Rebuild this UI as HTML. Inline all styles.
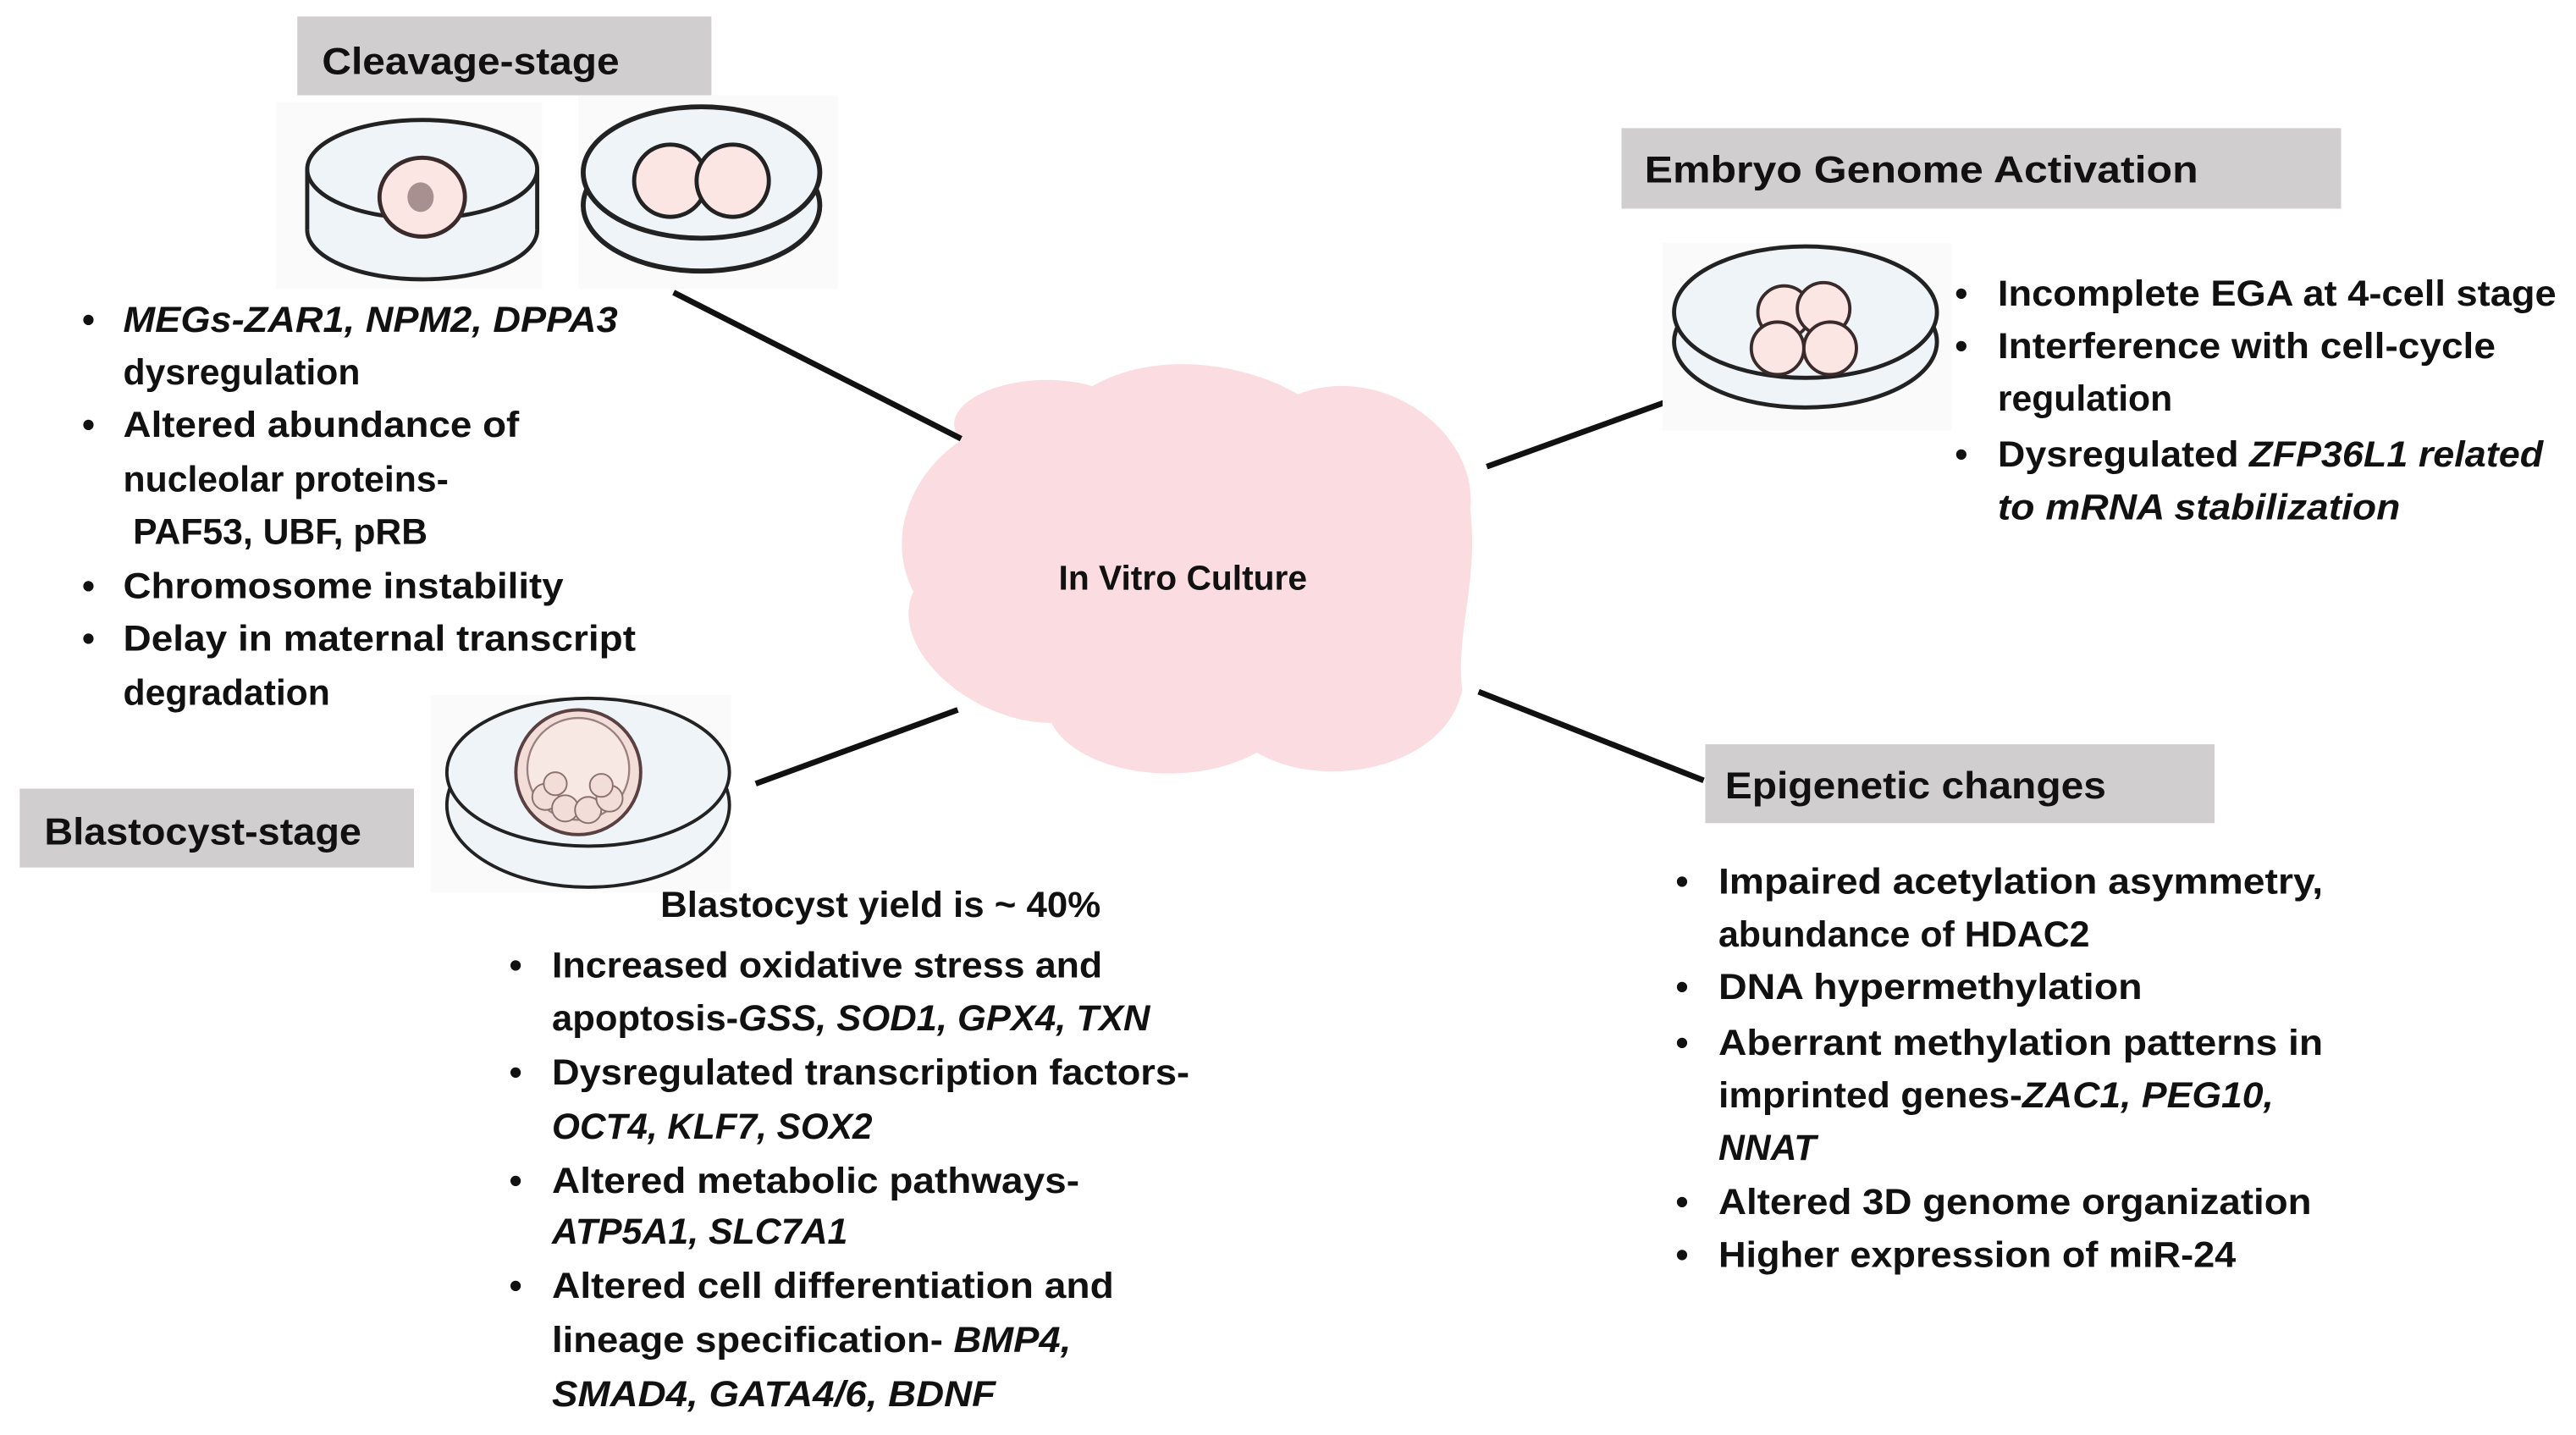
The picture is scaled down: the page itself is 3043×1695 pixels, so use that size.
<!DOCTYPE html>
<html><head><meta charset="utf-8"><style>
html,body{margin:0;padding:0;background:#fff;}
svg{display:block;}
text{font-family:"Liberation Sans",sans-serif;font-weight:bold;fill:#111;}
</style></head><body>
<svg width="3043" height="1695" viewBox="0 0 1568 873.4" preserveAspectRatio="none" xmlns="http://www.w3.org/2000/svg">
<!-- cloud -->
<path d="M585,268 C565,245 620,222 665,235 C705,212 760,222 790,240 C840,220 900,262 895,310 C900,355 886,385 890,420 C880,468 805,482 765,458 C722,482 655,470 640,440 C592,440 540,395 556,360 C540,330 552,290 585,268 Z" fill="#fbdde1"/>
<text x="720" y="359" font-size="21" text-anchor="middle">In Vitro Culture</text>
<!-- connectors -->
<g stroke="#111" stroke-width="3.5">
<line x1="410" y1="178" x2="585" y2="267"/>
<line x1="905" y1="284" x2="1027" y2="240"/>
<line x1="900" y1="421" x2="1037" y2="475"/>
<line x1="460" y1="477" x2="583" y2="432"/>
</g>
<!-- header boxes -->
<rect x="181" y="10" width="252" height="48" fill="#d0cece"/>
<text x="196" y="45" font-size="23" textLength="181" lengthAdjust="spacingAndGlyphs">Cleavage-stage</text>
<rect x="987" y="78" width="438" height="49" fill="#d0cece"/>
<text x="1001" y="111" font-size="23" textLength="337" lengthAdjust="spacingAndGlyphs">Embryo Genome Activation</text>
<rect x="1038" y="453" width="310" height="48" fill="#d0cece"/>
<text x="1050" y="486" font-size="23" textLength="232" lengthAdjust="spacingAndGlyphs">Epigenetic changes</text>
<rect x="12" y="480" width="240" height="48" fill="#d0cece"/>
<text x="27" y="514" font-size="23" textLength="193" lengthAdjust="spacingAndGlyphs">Blastocyst-stage</text>
<!-- dish images -->
<rect x="168" y="62" width="162" height="114" fill="#fafafa"/>
<g stroke="#222" stroke-width="2.5" fill="#eef4f7">
<ellipse cx="257" cy="140" rx="70" ry="30"/>
<rect x="187" y="103" width="140" height="37" stroke="none"/>
<ellipse cx="257" cy="103" rx="70" ry="30"/>
<line x1="187" y1="103" x2="187" y2="140"/><line x1="327" y1="103" x2="327" y2="140"/>
</g>
<ellipse cx="257" cy="120" rx="26" ry="24" fill="#fbe6e4" stroke="#3a2a2a" stroke-width="2.5"/>
<ellipse cx="256" cy="120" rx="8" ry="9" fill="#a89090"/>
<rect x="352" y="58" width="158" height="118" fill="#fafafa"/>
<g stroke="#222" stroke-width="3" fill="#eef4f7">
<ellipse cx="427" cy="125" rx="72" ry="40"/>
<ellipse cx="427" cy="105" rx="72" ry="40"/>
</g>
<ellipse cx="408" cy="110" rx="22" ry="22" fill="#fbe6e4" stroke="#222" stroke-width="2.5"/>
<ellipse cx="446" cy="110" rx="22" ry="22" fill="#fbe6e4" stroke="#222" stroke-width="2.5"/>
<rect x="1012" y="148" width="176" height="114" fill="#fafafa"/>
<g stroke="#222" stroke-width="2.5" fill="#eef4f7">
<ellipse cx="1099" cy="208" rx="80" ry="40"/>
<ellipse cx="1099" cy="190" rx="80" ry="40"/>
</g>
<g fill="#fbe6e4" stroke="#3a2a2a" stroke-width="2">
<circle cx="1086" cy="190" r="16"/><circle cx="1110" cy="188" r="16"/>
<circle cx="1082" cy="212" r="16"/><circle cx="1114" cy="212" r="16"/>
</g>
<rect x="262" y="423" width="183" height="120" fill="#fafafa"/>
<g stroke="#222" stroke-width="2" fill="#eef4f7">
<ellipse cx="358" cy="490" rx="86" ry="50"/>
<ellipse cx="358" cy="470" rx="86" ry="45"/>
</g>
<circle cx="352" cy="470" r="38" fill="#f3ddd8" stroke="#5a4040" stroke-width="2"/>
<circle cx="352" cy="468" r="31" fill="#f7e8e4" stroke="#9a8080" stroke-width="1.2"/>
<g fill="#f3ddd8" stroke="#8a7070" stroke-width="1">
<circle cx="332" cy="485" r="8"/><circle cx="344" cy="492" r="8"/><circle cx="358" cy="493" r="8"/><circle cx="371" cy="486" r="8"/><circle cx="338" cy="477" r="7"/><circle cx="366" cy="478" r="7"/>
</g>
<!-- Cleavage bullets -->
<g font-size="22">
<text x="50" y="202">•</text><text x="75" y="202" font-style="italic" textLength="301" lengthAdjust="spacingAndGlyphs">MEGs-ZAR1, NPM2, DPPA3</text>
<text x="75" y="234">dysregulation</text>
<text x="50" y="266">•</text><text x="75" y="266" textLength="241" lengthAdjust="spacingAndGlyphs">Altered abundance of</text>
<text x="75" y="299">nucleolar proteins-</text>
<text x="81" y="331">PAF53, UBF, pRB</text>
<text x="50" y="364">•</text><text x="75" y="364" textLength="268" lengthAdjust="spacingAndGlyphs">Chromosome instability</text>
<text x="50" y="396">•</text><text x="75" y="396" textLength="312" lengthAdjust="spacingAndGlyphs">Delay in maternal transcript</text>
<text x="75" y="429">degradation</text>
</g>
<!-- EGA bullets -->
<g font-size="22">
<text x="1190" y="186">•</text><text x="1216" y="186" textLength="340" lengthAdjust="spacingAndGlyphs">Incomplete EGA at 4-cell stage</text>
<text x="1190" y="218">•</text><text x="1216" y="218" textLength="303" lengthAdjust="spacingAndGlyphs">Interference with cell-cycle</text>
<text x="1216" y="250">regulation</text>
<text x="1190" y="284">•</text><text x="1216" y="284" textLength="332" lengthAdjust="spacingAndGlyphs">Dysregulated <tspan font-style="italic">ZFP36L1 related</tspan></text>
<text x="1216" y="316" font-style="italic" textLength="245" lengthAdjust="spacingAndGlyphs">to mRNA stabilization</text>
</g>
<!-- Epigenetic bullets -->
<g font-size="22">
<text x="1020" y="544">•</text><text x="1046" y="544" textLength="368" lengthAdjust="spacingAndGlyphs">Impaired acetylation asymmetry,</text>
<text x="1046" y="576" textLength="226" lengthAdjust="spacingAndGlyphs">abundance of HDAC2</text>
<text x="1020" y="608">•</text><text x="1046" y="608" textLength="258" lengthAdjust="spacingAndGlyphs">DNA hypermethylation</text>
<text x="1020" y="642">•</text><text x="1046" y="642" textLength="368" lengthAdjust="spacingAndGlyphs">Aberrant methylation patterns in</text>
<text x="1046" y="674" textLength="338" lengthAdjust="spacingAndGlyphs">imprinted genes-<tspan font-style="italic">ZAC1, PEG10,</tspan></text>
<text x="1046" y="706" font-style="italic">NNAT</text>
<text x="1020" y="739">•</text><text x="1046" y="739" textLength="361" lengthAdjust="spacingAndGlyphs">Altered 3D genome organization</text>
<text x="1020" y="771">•</text><text x="1046" y="771" textLength="315" lengthAdjust="spacingAndGlyphs">Higher expression of miR-24</text>
</g>
<!-- Blastocyst bullets -->
<g font-size="22">
<text x="402" y="558" textLength="268" lengthAdjust="spacingAndGlyphs">Blastocyst yield is ~ 40%</text>
<text x="310" y="595">•</text><text x="336" y="595" textLength="335" lengthAdjust="spacingAndGlyphs">Increased oxidative stress and</text>
<text x="336" y="627" textLength="364" lengthAdjust="spacingAndGlyphs">apoptosis-<tspan font-style="italic">GSS, SOD1, GPX4, TXN</tspan></text>
<text x="310" y="660">•</text><text x="336" y="660" textLength="388" lengthAdjust="spacingAndGlyphs">Dysregulated transcription factors-</text>
<text x="336" y="693" font-style="italic" textLength="195" lengthAdjust="spacingAndGlyphs">OCT4, KLF7, SOX2</text>
<text x="310" y="726">•</text><text x="336" y="726" textLength="321" lengthAdjust="spacingAndGlyphs">Altered metabolic pathways-</text>
<text x="336" y="757" font-style="italic" textLength="180" lengthAdjust="spacingAndGlyphs">ATP5A1, SLC7A1</text>
<text x="310" y="790">•</text><text x="336" y="790" textLength="342" lengthAdjust="spacingAndGlyphs">Altered cell differentiation and</text>
<text x="336" y="823" textLength="316" lengthAdjust="spacingAndGlyphs">lineage specification- <tspan font-style="italic">BMP4,</tspan></text>
<text x="336" y="856" font-style="italic" textLength="270" lengthAdjust="spacingAndGlyphs">SMAD4, GATA4/6, BDNF</text>
</g>
</svg>
</body></html>
